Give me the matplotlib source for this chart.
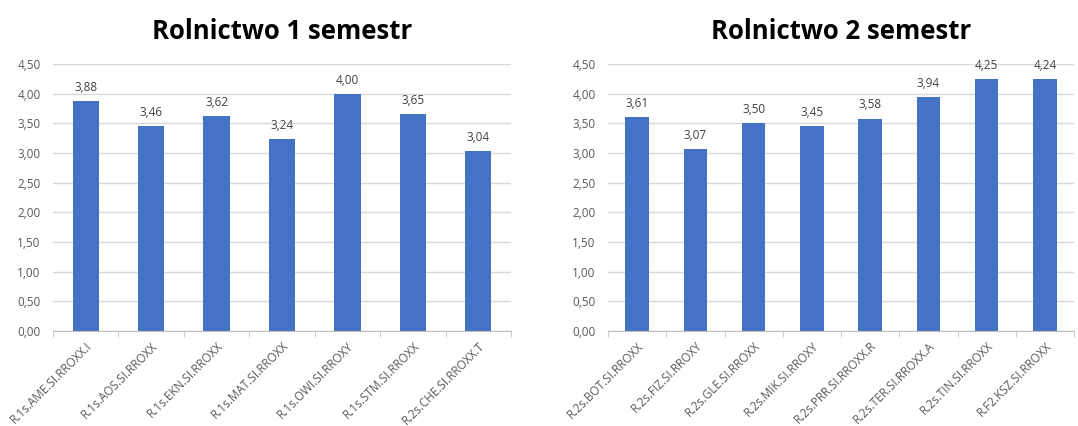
import numpy as np
import matplotlib
matplotlib.use("Agg")
import matplotlib.pyplot as plt

# data
labels_1 = ["R.1s.AME.SI.RROXX.I", "R.1s.AOS.SI.RROXX", "R.1s.EKN.SI.RROXX",
            "R.1s.MAT.SI.RROXX", "R.1s.OWI.SI.RROXY", "R.1s.STM.SI.RROXX",
            "R.2s.CHE.SI.RROXX.T"]
values_1 = [3.88, 3.46, 3.62, 3.24, 4.00, 3.65, 3.04]

labels_2 = ["R.2s.BOT.SI.RROXX", "R.2s.FIZ.SI.RROXY", "R.2s.GLE.SI.RROXX",
            "R.2s.MIK.SI.RROXY", "R.2s.PRR.SI.RROXX.R", "R.2s.TER.SI.RROXX.A",
            "R.2s.TIN.SI.RROXX", "R.F2.KSZ.SI.RROXX"]
values_2 = [3.61, 3.07, 3.50, 3.45, 3.58, 3.94, 4.25, 4.24]

titles = ["Rolnictwo 1 semestr", "Rolnictwo 2 semestr"]
yticks = np.arange(0, 4.51, 0.5)

plt.rcParams['font.family'] = ['Open Sans', 'DejaVu Sans']
bar_color = "#4472C4"
txt_color = "#595959"

fig = plt.figure(figsize=(10.78, 4.26), dpi=100)
W, H = 1078, 426
# axes rectangles in pixels: left, right
boxes = [(53, 511), (608, 1074)]
top_px, bottom_px = 64, 331

for (x0, x1), labels, values, title in zip(boxes, [labels_1, labels_2],
                                           [values_1, values_2], titles):
    ax = fig.add_axes([x0 / W, 1 - bottom_px / H, (x1 - x0) / W,
                       (bottom_px - top_px) / H])
    x = np.arange(len(values))
    ax.bar(x, values, width=0.4, color=bar_color, zorder=3)
    for xi, v in zip(x, values):
        ax.text(xi, v + 0.12, f"{v:.2f}".replace(".", ","), ha="center",
                va="bottom", fontsize=8.5, color="#404040")
    ax.set_xlim(-0.5, len(values) - 0.5)
    ax.set_ylim(0, 4.5)
    ax.set_yticks(yticks)
    ax.set_yticklabels([f"{t:.2f}".replace(".", ",") for t in yticks],
                       fontsize=8.5, color=txt_color)
    ax.set_xticks(x)
    ax.set_xticklabels(labels, rotation=45, ha="right", rotation_mode="anchor",
                       fontsize=8.5, color=txt_color)
    ax.set_xticks(np.arange(len(values) + 1) - 0.5, minor=True)
    ax.tick_params(axis="x", which="major", length=0, pad=6)
    ax.tick_params(axis="x", which="minor", length=4, color="#BFBFBF")
    ax.tick_params(axis="y", length=0, pad=9)
    ax.grid(axis="y", color="#D9D9D9", linewidth=1, zorder=0)
    for s in ["left", "right", "top"]:
        ax.spines[s].set_visible(False)
    ax.spines["bottom"].set_color("#BFBFBF")
    ax.spines["bottom"].set_zorder(4)
    ax.set_title(title, fontsize=18.5, fontweight="bold", color="black", pad=18)

fig.savefig("out.png", dpi=100, facecolor="white")
